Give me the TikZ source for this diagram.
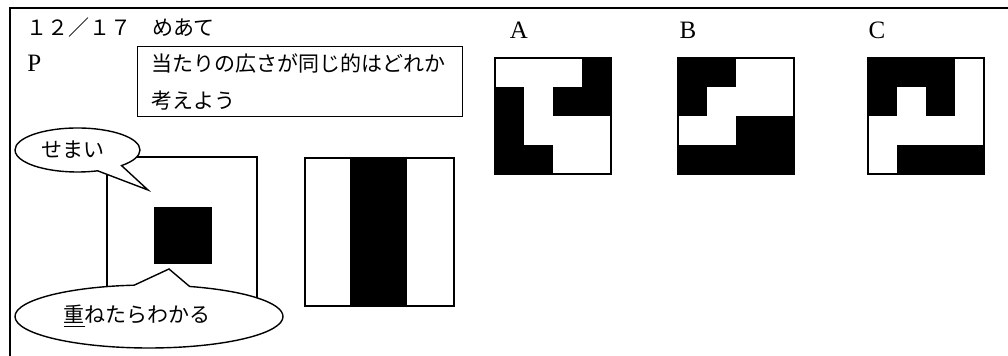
\documentclass[tikz,border=0pt]{standalone}
\usepackage{fontspec}
\setmainfont{Liberation Serif}
\newfontfamily\jp{Noto Sans CJK JP}
\usetikzlibrary{shapes.callouts}

\begin{document}
\begin{tikzpicture}[x=0.5pt,y=-0.5pt,line width=0.7pt,
    every node/.style={font=\fontsize{10.5}{18.5}\selectfont},
    letter/.style={font=\fontsize{12.5}{15}\selectfont},
    bubble/.style={ellipse callout,draw,fill=white,inner sep=0pt}]
          \useasboundingbox (0,0) rectangle (1008,356);
          \draw (10,356) -- (10,8) -- (1008,8);
          \node[anchor=west] (date) at (19,28) {\jp １２／１７　めあて};
          \node[letter,anchor=west] (P) at (20,63) {P};
          \node[draw,anchor=north west,minimum width=162.5pt,minimum height=35pt,
                text width=149pt,inner xsep=6.5pt,inner ysep=2pt,align=left]
                (goal) at (137,46) {\jp 当たりの広さが同じ的はどれか\\考えよう};
          % small target and band target
          \draw (107,157) rectangle (257,307);
          \fill (154,207) rectangle (212,264);
          \fill (350,158) rectangle (407,306);
          \draw (305,158) rectangle (454,306);
          \coordinate (semaitip) at (148,190);
          \coordinate (kasanetip) at (169,269);
          \node[bubble,minimum width=62.5pt,minimum height=22pt,
                callout absolute pointer={(semaitip)},callout pointer arc=26]
                (semai) at (77.5,150) {\jp せまい\hspace*{5pt}};
          \node[bubble,minimum width=134pt,minimum height=31.5pt,
                callout absolute pointer={(kasanetip)},callout pointer arc=24]
                (kasane) at (149,316.5) {\jp \underline{重}ねたらわかる\hspace*{12pt}};
          % grids A, B, C
          \node[letter] (labA) at (519,30) {A};
          \node[letter] (labB) at (688,30) {B};
          \node[letter] (labC) at (877,30) {C};
          \foreach \c/\r in {3/0,0/1,2/1,3/1,0/2,0/3,1/3}
            \fill (495+\c*29,58+\r*29) rectangle +(29,29);
          \draw (495,58) rectangle +(116,116);
          \foreach \c/\r in {0/0,1/0,0/1,2/2,3/2,0/3,1/3,2/3,3/3}
            \fill (678+\c*29,58+\r*29) rectangle +(29,29);
          \draw (678,58) rectangle +(116,116);
          \foreach \c/\r in {0/0,1/0,2/0,0/1,2/1,1/3,2/3,3/3}
            \fill (868+\c*29,58+\r*29) rectangle +(29,29);
          \draw (868,58) rectangle +(116,116);
        \end{tikzpicture}
\end{document}
